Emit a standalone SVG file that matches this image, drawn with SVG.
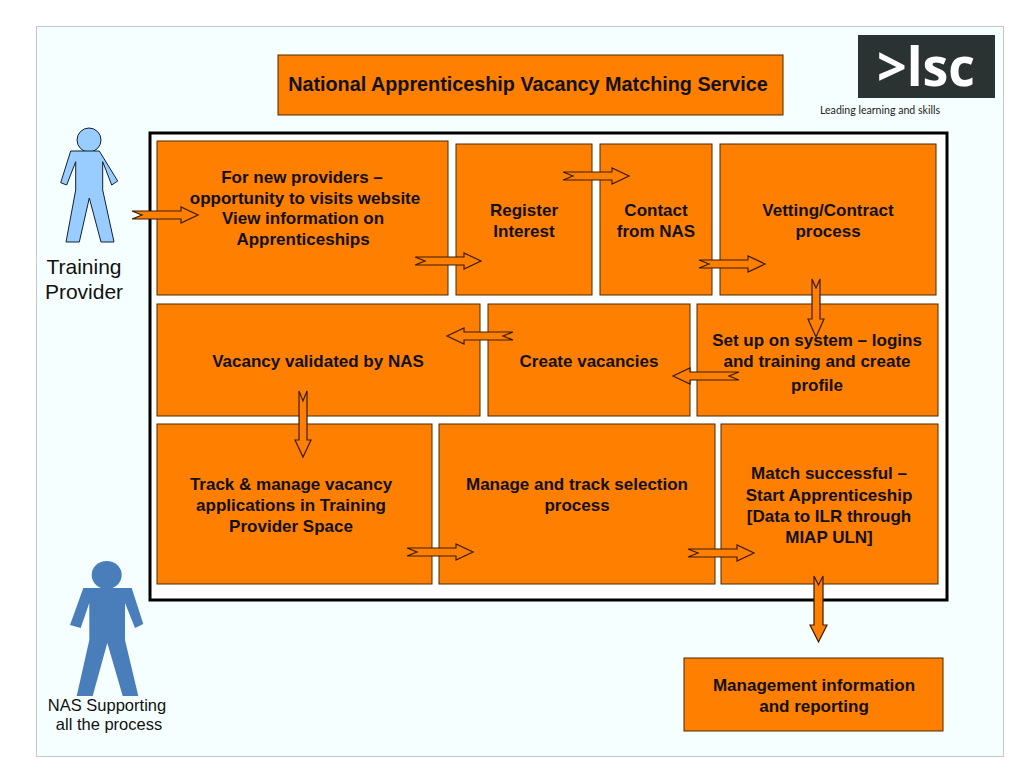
<svg xmlns="http://www.w3.org/2000/svg" width="1024" height="768" viewBox="0 0 1024 768">
<style>
.box{fill:#ff8000;stroke:#4a2a00;stroke-width:1}
.t{font-family:"Liberation Sans",Arial,sans-serif;font-weight:bold;font-size:17px;fill:#111;text-anchor:middle}
.p{font-family:"Liberation Sans",Arial,sans-serif;fill:#111;text-anchor:middle}
.ar{fill:#ff8000;stroke:#3a1a00;stroke-width:1.2;stroke-linejoin:miter}
</style>
<rect width="1024" height="768" fill="#fff"/>
<rect x="36.500" y="26.500" width="967" height="730" fill="#f6ffff" stroke="#c4c8c8" stroke-width="1"/>
<g id="logo">
<rect x="858" y="35" width="137" height="63" fill="#2a3232"/>
<text x="877" y="86" font-family="'Open Sans',sans-serif" font-weight="700" font-size="54" fill="#fff" textLength="98" lengthAdjust="spacingAndGlyphs">&gt;lsc</text>
<text x="820" y="114" font-family="Lato,'Open Sans',sans-serif" font-size="10.500" fill="#222" textLength="120" lengthAdjust="spacingAndGlyphs">Leading learning and skills</text>
</g>
<g id="title"><rect class="box" x="278" y="55" width="505" height="60"/><text class="t" x="528" y="91" style="font-size:19.800px">National Apprenticeship Vacancy Matching Service</text></g>
<g id="frame"><rect x="150" y="133" width="797" height="467" fill="#fff" stroke="#000" stroke-width="3"/></g>
<g id="n1"><rect class="box" x="157" y="141" width="291" height="154"/>
<text class="t" x="302" y="183">For new providers –</text><text class="t" x="305" y="204">opportunity to visits website</text><text class="t" x="303" y="224">View information on</text><text class="t" x="303" y="245">Apprenticeships</text></g>
<g id="n2"><rect class="box" x="456" y="144" width="136" height="151"/><text class="t" x="524" y="216">Register</text><text class="t" x="524" y="237">Interest</text></g>
<g id="n3"><rect class="box" x="600" y="144" width="112" height="151"/><text class="t" x="656" y="216">Contact</text><text class="t" x="656" y="237">from NAS</text></g>
<g id="n4"><rect class="box" x="720" y="144" width="216" height="151"/><text class="t" x="828" y="216">Vetting/Contract</text><text class="t" x="828" y="237">process</text></g>
<g id="n5"><rect class="box" x="157" y="304" width="323" height="112"/><text class="t" x="318" y="367">Vacancy validated by NAS</text></g>
<g id="n6"><rect class="box" x="488" y="304" width="202" height="112"/><text class="t" x="589" y="367">Create vacancies</text></g>
<g id="n7"><rect class="box" x="697" y="304" width="241" height="112"/><text class="t" x="817" y="346">Set up on system – logins</text><text class="t" x="817" y="367">and training and create</text><text class="t" x="817" y="391">profile</text></g>
<g id="n8"><rect class="box" x="157" y="424" width="275" height="160"/><text class="t" x="291" y="490">Track &amp; manage vacancy</text><text class="t" x="291" y="511">applications in Training</text><text class="t" x="291" y="532">Provider Space</text></g>
<g id="n9"><rect class="box" x="439" y="424" width="276" height="160"/><text class="t" x="577" y="490">Manage and track selection</text><text class="t" x="577" y="511">process</text></g>
<g id="n10"><rect class="box" x="721" y="424" width="217" height="160"/><text class="t" x="829" y="479">Match successful –</text><text class="t" x="829" y="501">Start Apprenticeship</text><text class="t" x="829" y="522">[Data to ILR through</text><text class="t" x="829" y="543">MIAP ULN]</text></g>
<g id="n11"><rect class="box" x="684" y="658" width="259" height="73"/><text class="t" x="814" y="691">Management information</text><text class="t" x="814" y="712">and reporting</text></g>
<g id="training-provider">
<circle cx="89" cy="140" r="12" fill="#99ccff" stroke="#123" stroke-width="1"/>
<polygon points="70.700,151 99.300,151 117.700,181 111.700,185 102.700,161.700 102.700,190 114,242 101,242 89.300,198 79.300,242 66,242 75.700,190 75.700,161.700 66.700,185 60.700,182.700" fill="#99ccff" stroke="#123" stroke-width="1"/>
<text class="p" x="84" y="274" font-size="21">Training</text><text class="p" x="84" y="299" font-size="21">Provider</text>
</g>
<g id="nas">
<ellipse cx="106.700" cy="575" rx="15" ry="14" fill="#4a7ebb"/>
<polygon points="83.300,588 131.700,588 143.300,624 135,628 125,603 125,640 138.300,696 122.700,696 107.300,643 92.700,696 76.700,696 89.300,640 89.300,603 80.700,628 70,625" fill="#4a7ebb"/>
<text class="p" x="107" y="711" font-size="16.500">NAS Supporting</text><text class="p" x="109" y="730" font-size="16.500">all the process</text>
</g>
<g id="connectors">
<polygon class="ar" points="132,211 181,211 181,207 198,215 181,223 181,219 132,219 142,215"/>
<polygon class="ar" points="415,257 464,257 464,253 481,261 464,269 464,265 415,265 425,261"/>
<polygon class="ar" points="563,172 612,172 612,168 629,176 612,184 612,180 563,180 573,176"/>
<polygon class="ar" points="699,260 748,260 748,256 765,264 748,272 748,268 699,268 709,264"/>
<polygon class="ar" points="812,279 812,319 808,319 816,337 824,319 820,319 820,279 816,288"/>
<polygon class="ar" points="739,372 690,372 690,368 673,376 690,384 690,380 739,380 729,376"/>
<polygon class="ar" points="513,332 464,332 464,328 447,336 464,344 464,340 513,340 503,336"/>
<polygon class="ar" points="299,391 299,440 295,440 303,457 311,440 307,440 307,391 303,401"/>
<polygon class="ar" points="407,548 456,548 456,544 473,552 456,560 456,556 407,556 417,552"/>
<polygon class="ar" points="688,549 737,549 737,545 754,553 737,561 737,557 688,557 698,553"/>
<polygon class="ar" points="814,576 814,625 810,625 818.500,642 827,625 823,625 823,576 818.500,585"/>
</g>
</svg>
